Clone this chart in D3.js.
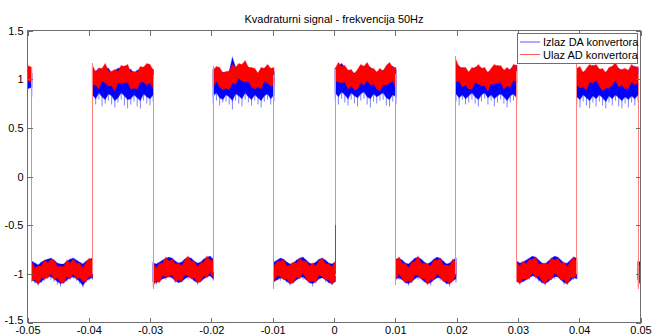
<!DOCTYPE html>
<html><head><meta charset="utf-8">
<script src="https://cdn.jsdelivr.net/npm/d3@7"></script>
<style>
html,body{margin:0;padding:0;background:#fff;}
svg{display:block;font-family:"Liberation Sans",Arial,sans-serif;}
</style></head>
<body>
<svg id="chart" width="654" height="335"></svg>
<script>
// ---- data ----
const title = "Kvadraturni signal - frekvencija 50Hz";
const seriesNames = ["Izlaz DA konvertora", "Ulaz AD konvertora"];
const seriesColors = ["#0000ff", "#ff0000"];
const xTicks = [-0.05,-0.04,-0.03,-0.02,-0.01,0,0.01,0.02,0.03,0.04,0.05];
const xTickLabels = ["-0.05","-0.04","-0.03","-0.02","-0.01","0","0.01","0.02","0.03","0.04","0.05"];
const yTicks = [-1.5,-1,-0.5,0,0.5,1,1.5];
const yTickLabels = ["-1.5","-1","-0.5","0","0.5","1","1.5"];

// switching instants of the square wave (segment boundaries)
const edges = [-0.05,-0.0493,-0.0394,-0.0295,-0.0197,-0.0098,0.0002,0.0101,0.0199,0.0298,0.0396,0.0496,0.05];

// red (Ulaz AD) band: upper / lower envelope per segment
const redTop = [
 [1.14,1.12],
 [-0.88,-0.94,-0.92,-0.92,-0.86,-0.89,-0.85,-0.86,-0.93,-0.92,-0.93,-0.86,-0.89,-0.85,-0.89,-0.89,-0.94,-0.88,-0.84,-0.87],
 [1.14,1.07,1.11,1.11,1.16,1.08,1.08,1.10,1.08,1.14,1.13,1.15,1.07,1.08,1.07,1.13,1.12,1.16,1.15,1.09],
 [-0.89,-0.94,-0.89,-0.89,-0.83,-0.87,-0.85,-0.90,-0.89,-0.92,-0.86,-0.82,-0.87,-0.87,-0.93,-0.89,-0.88,-0.82,-0.86,-0.86],
 [1.09,1.13,1.12,1.06,1.08,1.08,1.15,1.12,1.16,1.15,1.19,1.12,1.12,1.11,1.06,1.12,1.11,1.15,1.11,1.12],
 [-0.92,-0.87,-0.87,-0.85,-0.92,-0.91,-0.88,-0.89,-0.84,-0.87,-0.87,-0.92,-0.89,-0.92,-0.86,-0.84,-0.90,-0.90,-0.93,-0.87],
 [1.11,1.17,1.13,1.14,1.09,1.10,1.05,1.10,1.15,1.13,1.17,1.11,1.11,1.07,1.11,1.08,1.14,1.17,1.12,1.12],
 [-0.86,-0.83,-0.89,-0.89,-0.94,-0.88,-0.87,-0.82,-0.89,-0.89,-0.90,-0.92,-0.86,-0.86,-0.84,-0.91,-0.91,-0.92,-0.85,-0.88],
 [1.20,1.12,1.12,1.12,1.07,1.12,1.11,1.15,1.11,1.12,1.06,1.11,1.15,1.13,1.14,1.09,1.12,1.09,1.15,1.14],
 [-0.88,-0.92,-0.87,-0.90,-0.85,-0.85,-0.83,-0.90,-0.90,-0.89,-0.90,-0.84,-0.86,-0.84,-0.89,-0.88,-0.93,-0.87,-0.83,-0.88],
 [1.11,1.13,1.06,1.11,1.15,1.13,1.15,1.10,1.11,1.06,1.12,1.13,1.17,1.10,1.10,1.11,1.09,1.15,1.12,1.13],
 [-0.90,-0.92]
];
const redBot = [
 [0.98,0.97],
 [-1.07,-1.06,-1.11,-1.04,-1.05,-1.04,-1.00,-1.06,-1.04,-1.09,-1.09,-1.03,-1.05,-1.00,-1.05,-1.04,-1.08,-1.08,-1.02,-1.04],
 [0.94,0.94,0.90,0.98,0.96,0.93,0.93,0.88,0.96,0.96,0.96,0.97,0.90,0.91,0.90,0.97,0.97,0.94,0.96,0.91],
 [-1.12,-1.07,-1.09,-1.02,-1.03,-1.03,-1.01,-1.08,-1.06,-1.08,-1.01,-1.02,-1.05,-1.04,-1.09,-1.08,-1.02,-1.04,-0.98,-1.04],
 [0.92,0.98,0.92,0.89,0.91,0.89,0.96,0.95,1.01,0.98,0.97,0.98,0.92,0.90,0.92,0.90,0.98,0.96,0.93,0.93],
 [-1.08,-1.02,-1.03,-1.06,-1.05,-1.10,-1.09,-1.03,-1.05,-0.99,-1.05,-1.09,-1.07,-1.09,-1.01,-1.03,-1.06,-1.06,-1.11,-1.06],
 [0.98,0.97,0.96,0.97,0.90,0.93,0.89,0.90,0.96,0.94,0.99,0.94,0.95,0.90,0.88,0.94,0.94,0.96,0.98,0.91],
 [-1.06,-1.00,-1.05,-1.09,-1.07,-1.09,-1.01,-1.02,-1.05,-1.05,-1.11,-1.06,-1.06,-1.00,-1.03,-1.08,-1.07,-1.10,-1.07,-1.02],
 [0.97,0.98,0.92,0.94,0.90,0.90,0.97,0.95,0.93,0.93,0.88,0.95,0.95,0.96,0.97,0.90,0.93,0.92,0.99,0.97],
 [-1.07,-1.10,-1.05,-1.06,-1.04,-0.99,-1.04,-1.02,-1.08,-1.10,-1.05,-1.06,-0.99,-1.02,-1.06,-1.06,-1.11,-1.04,-1.04,-1.01],
 [0.94,0.91,0.92,0.89,0.97,0.96,0.99,0.93,0.88,0.91,0.91,0.94,0.99,0.92,0.94,0.90,0.91,0.97,0.94,0.96],
 [-1.12,-1.08]
];

// blue (Izlaz DA) band: upper envelope, dense lower edge, and spike extremes
const blueTop = [
 [1.08,1.06],
 [-0.87,-0.89,-0.91,-0.88,-0.86,-0.85,-0.84,-0.86,-0.89,-0.90,-0.90,-0.87,-0.85,-0.84,-0.86,-0.88,-0.90,-0.87,-0.85,-0.84],
 [1.10,1.08,1.11,1.10,1.12,1.11,1.06,1.09,1.11,1.12,1.13,1.10,1.10,1.06,1.09,1.10,1.12,1.14,1.11,1.10],
 [-0.89,-0.90,-0.88,-0.86,-0.84,-0.83,-0.84,-0.87,-0.89,-0.88,-0.85,-0.83,-0.84,-0.87,-0.89,-0.88,-0.85,-0.83,-0.82,-0.85],
 [1.10,1.11,1.08,1.07,1.06,1.08,1.22,1.12,1.13,1.14,1.15,1.12,1.10,1.07,1.06,1.08,1.11,1.13,1.10,1.08],
 [-0.88,-0.86,-0.84,-0.85,-0.88,-0.90,-0.89,-0.86,-0.84,-0.83,-0.86,-0.89,-0.90,-0.88,-0.85,-0.84,-0.86,-0.89,-0.90,-0.88],
 [1.11,1.13,1.16,1.12,1.09,1.07,1.06,1.08,1.11,1.13,1.14,1.12,1.09,1.07,1.07,1.09,1.12,1.14,1.13,1.10],
 [-0.85,-0.84,-0.86,-0.89,-0.90,-0.87,-0.84,-0.83,-0.85,-0.88,-0.90,-0.88,-0.85,-0.83,-0.84,-0.87,-0.90,-0.89,-0.86,-0.84],
 [1.16,1.13,1.10,1.08,1.07,1.09,1.12,1.13,1.11,1.08,1.07,1.09,1.12,1.14,1.12,1.09,1.08,1.10,1.13,1.14],
 [-0.87,-0.89,-0.88,-0.86,-0.84,-0.82,-0.83,-0.86,-0.89,-0.90,-0.87,-0.84,-0.82,-0.83,-0.86,-0.89,-0.89,-0.86,-0.83,-0.84],
 [1.11,1.09,1.07,1.09,1.12,1.14,1.13,1.10,1.07,1.07,1.10,1.13,1.14,1.11,1.08,1.07,1.09,1.12,1.13,1.11],
 [-0.87,-0.88]
];
const blueBot = [
 [0.90,0.92],
 [-1.06,-1.08,-1.10,-1.08,-1.05,-1.03,-1.03,-1.05,-1.08,-1.10,-1.09,-1.06,-1.04,-1.03,-1.05,-1.08,-1.12,-1.07,-1.05,-1.04],
 [0.84,0.80,0.86,0.82,0.79,0.85,0.83,0.78,0.81,0.86,0.83,0.79,0.80,0.84,0.81,0.78,0.85,0.82,0.80,0.84],
 [-1.08,-1.09,-1.07,-1.05,-1.04,-1.03,-1.04,-1.07,-1.09,-1.08,-1.05,-1.03,-1.04,-1.07,-1.09,-1.08,-1.05,-1.03,-1.02,-1.05],
 [0.83,0.86,0.81,0.79,0.84,0.82,0.78,0.85,0.83,0.80,0.86,0.82,0.79,0.84,0.81,0.78,0.83,0.85,0.80,0.84],
 [-1.08,-1.06,-1.04,-1.05,-1.08,-1.10,-1.09,-1.06,-1.04,-1.03,-1.06,-1.09,-1.10,-1.08,-1.05,-1.04,-1.06,-1.09,-1.10,-1.08],
 [0.86,0.82,0.87,0.84,0.80,0.86,0.83,0.81,0.85,0.87,0.82,0.80,0.85,0.82,0.84,0.86,0.81,0.79,0.84,0.82],
 [-1.05,-1.04,-1.06,-1.09,-1.10,-1.08,-1.05,-1.03,-1.05,-1.08,-1.10,-1.09,-1.06,-1.04,-1.04,-1.07,-1.10,-1.10,-1.07,-1.05],
 [0.85,0.81,0.84,0.80,0.83,0.86,0.82,0.79,0.84,0.86,0.81,0.84,0.80,0.83,0.85,0.82,0.78,0.83,0.85,0.81],
 [-1.08,-1.09,-1.08,-1.06,-1.04,-1.02,-1.03,-1.06,-1.09,-1.10,-1.08,-1.05,-1.03,-1.03,-1.06,-1.09,-1.10,-1.07,-1.04,-1.05],
 [0.82,0.79,0.84,0.81,0.78,0.83,0.80,0.84,0.81,0.77,0.83,0.80,0.84,0.81,0.78,0.82,0.79,0.83,0.80,0.84],
 [-1.06,-1.05]
];
const blueSpike = [
 [0.80,0.82],
 [-1.08,-1.10,-1.12,-1.09,-1.07,-1.05,-1.06,-1.08,-1.11,-1.13,-1.10,-1.08,-1.06,-1.05,-1.07,-1.10,-1.14,-1.09,-1.07,-1.06],
 [0.76,0.74,0.79,0.72,0.75,0.78,0.74,0.71,0.76,0.79,0.73,0.70,0.74,0.77,0.72,0.70,0.78,0.75,0.73,0.77],
 [-1.08,-1.11,-1.07,-1.05,-1.06,-1.03,-1.04,-1.09,-1.09,-1.08,-1.05,-1.06,-1.04,-1.07,-1.11,-1.08,-1.05,-1.03,-1.02,-1.07],
 [0.75,0.78,0.73,0.76,0.77,0.74,0.69,0.78,0.75,0.72,0.79,0.76,0.73,0.78,0.74,0.71,0.77,0.79,0.74,0.77],
 [-1.08,-1.06,-1.07,-1.05,-1.08,-1.12,-1.09,-1.06,-1.04,-1.06,-1.06,-1.09,-1.13,-1.08,-1.05,-1.04,-1.08,-1.09,-1.11,-1.08],
 [0.78,0.74,0.80,0.76,0.73,0.79,0.75,0.72,0.78,0.80,0.74,0.71,0.77,0.75,0.78,0.79,0.73,0.72,0.77,0.74],
 [-1.05,-1.06,-1.06,-1.09,-1.12,-1.08,-1.05,-1.06,-1.05,-1.08,-1.10,-1.12,-1.06,-1.04,-1.07,-1.07,-1.10,-1.13,-1.07,-1.09],
 [0.77,0.73,0.79,0.74,0.76,0.79,0.75,0.72,0.77,0.80,0.74,0.78,0.72,0.76,0.79,0.75,0.71,0.76,0.78,0.73],
 [-1.08,-1.11,-1.08,-1.06,-1.06,-1.02,-1.03,-1.08,-1.09,-1.12,-1.08,-1.05,-1.05,-1.03,-1.06,-1.11,-1.10,-1.07,-1.06,-1.05],
 [0.74,0.71,0.77,0.73,0.70,0.76,0.72,0.77,0.73,0.70,0.76,0.73,0.78,0.72,0.70,0.75,0.71,0.76,0.73,0.77],
 [-1.06,-1.05]
];

// vertical switching lines of the red signal (low end / high end, one per inner edge)
const edgeLo = [-1.08,-1.00,-1.16,-0.98,-1.16,-1.02,-1.11,-1.00,-1.08,-1.00,-1.16];
const edgeHi = [ 1.12, 1.17, 1.04, 1.14, 1.04, 1.10, 1.05, 1.24, 1.08, 1.16, 1.05];
// short visible piece of the blue switching line at t = 0
const blueEdgeLo = [null,null,null,null,null,-1.00,null,null,null,null,null];
const blueEdgeHi = [null,null,null,null,null,-0.50,null,null,null,null,null];

// ---- drawing ----
const svg = d3.select("#chart");
const L = 27.5, R = 640.5, T = 30.5, B = 322.5;
const x = d3.scaleLinear().domain([-0.05, 0.05]).range([L, R]);
const y = d3.scaleLinear().domain([-1.5, 1.5]).range([B, T]);

svg.append("rect").attr("width",654).attr("height",335).attr("fill","#fff");
svg.append("defs").append("clipPath").attr("id","clip")
  .append("rect").attr("x",L).attr("y",T).attr("width",R-L).attr("height",B-T);
const plot = svg.append("g").attr("clip-path","url(#clip)");

function segPoints(s, hiArr, loArr) {
  const hi = hiArr[s], lo = loArr[s], n = hi.length;
  const t0 = edges[s], t1 = edges[s+1];
  return hi.map((h, i) => ({ t: t0 + (n === 1 ? 0 : i/(n-1)) * (t1 - t0), hi: h, lo: lo[i] }));
}
const area = d3.area().x(d => x(d.t)).y0(d => y(d.lo)).y1(d => y(d.hi));
const nSeg = edges.length - 1;

// blue spikes (thin lighter strokes)
for (let s = 0; s < nSeg; s++) {
  plot.append("g").selectAll("line").data(segPoints(s, blueTop, blueSpike)).join("line")
    .attr("x1", d => x(d.t)).attr("x2", d => x(d.t))
    .attr("y1", d => y(d.hi)).attr("y2", d => y(d.lo))
    .attr("stroke", seriesColors[0]).attr("stroke-opacity", 0.5).attr("stroke-width", 1);
}
// blue dense band
for (let s = 0; s < nSeg; s++) {
  plot.append("path").datum(segPoints(s, blueTop, blueBot))
    .attr("d", area).attr("fill", seriesColors[0])
    .attr("stroke", seriesColors[0]).attr("stroke-opacity", 0.35).attr("stroke-width", 1.2);
}
// red band
for (let s = 0; s < nSeg; s++) {
  plot.append("path").datum(segPoints(s, redTop, redBot))
    .attr("d", area).attr("fill", seriesColors[1])
    .attr("stroke", seriesColors[1]).attr("stroke-opacity", 0.35).attr("stroke-width", 1.2);
}
// red switching lines
plot.append("g").selectAll("line").data(edges.slice(1, -1)).join("line")
  .attr("x1", d => x(d)).attr("x2", d => x(d))
  .attr("y1", (d, k) => y(edgeLo[k])).attr("y2", (d, k) => y(edgeHi[k]))
  .attr("stroke", "#ff8080").attr("stroke-width", 1)
  .attr("shape-rendering","crispEdges");
// blue switching stub (seen through the red line)
edges.slice(1, -1).forEach((e, k) => {
  if (blueEdgeLo[k] === null) return;
  plot.append("line").attr("x1", x(e)).attr("x2", x(e))
    .attr("y1", y(blueEdgeLo[k])).attr("y2", y(blueEdgeHi[k]))
    .attr("stroke", seriesColors[0]).attr("stroke-opacity", 0.55).attr("stroke-width", 1)
    .attr("shape-rendering","crispEdges");
});

// ---- axes (MATLAB-style box, inward ticks) ----
const axisColor = "#6e6e6e";
function styleAxis(g, showLabels) {
  g.select(".domain").remove();
  g.selectAll(".tick line").attr("stroke", axisColor).attr("shape-rendering","crispEdges");
  g.selectAll(".tick text").attr("fill", "#000").style("font-size","11px")
    .style("font-family",'"Liberation Sans", Arial, sans-serif');
  if (!showLabels) g.selectAll(".tick text").remove();
}
svg.append("g").attr("transform",`translate(0,${B})`)
  .call(d3.axisBottom(x).tickValues(xTicks).tickFormat((d,i)=>xTickLabels[i]).tickSizeInner(-5).tickSizeOuter(0).tickPadding(3.5))
  .call(g => styleAxis(g, true));
svg.append("g").attr("transform",`translate(0,${T})`)
  .call(d3.axisTop(x).tickValues(xTicks).tickSizeInner(-5).tickSizeOuter(0))
  .call(g => styleAxis(g, false));
svg.append("g").attr("transform",`translate(${L},0)`)
  .call(d3.axisLeft(y).tickValues(yTicks).tickFormat((d,i)=>yTickLabels[i]).tickSizeInner(-5).tickSizeOuter(0).tickPadding(4))
  .call(g => styleAxis(g, true))
  .call(g => g.selectAll(".tick text").attr("dy", (d, i) => i === 0 ? "0.05em" : "0.32em"));
svg.append("g").attr("transform",`translate(${R},0)`)
  .call(d3.axisRight(y).tickValues(yTicks).tickSizeInner(-5).tickSizeOuter(0))
  .call(g => styleAxis(g, false));

svg.append("rect").attr("x",L).attr("y",T).attr("width",R-L).attr("height",B-T)
  .attr("fill","none").attr("stroke",axisColor).attr("stroke-width",1);

// ---- title ----
svg.append("text").attr("x",(L+R)/2).attr("y",23).attr("text-anchor","middle")
  .style("font-size","11px").attr("fill","#000").text(title);

// ---- legend ----
const lg = svg.append("g");
lg.append("rect").attr("x",517.5).attr("y",33.5).attr("width",120).attr("height",30)
  .attr("fill","#fff").attr("stroke",axisColor).attr("stroke-width",1);
seriesNames.forEach((name, i) => {
  const yy = 42 + i*12.5;
  lg.append("line").attr("x1",520).attr("x2",540).attr("y1",yy).attr("y2",yy)
    .attr("stroke",seriesColors[i]).attr("stroke-opacity",0.65).attr("stroke-width",1);
  lg.append("text").attr("x",543).attr("y",yy+4).style("font-size","11px").attr("fill","#000").text(name);
});
</script>
</body></html>
